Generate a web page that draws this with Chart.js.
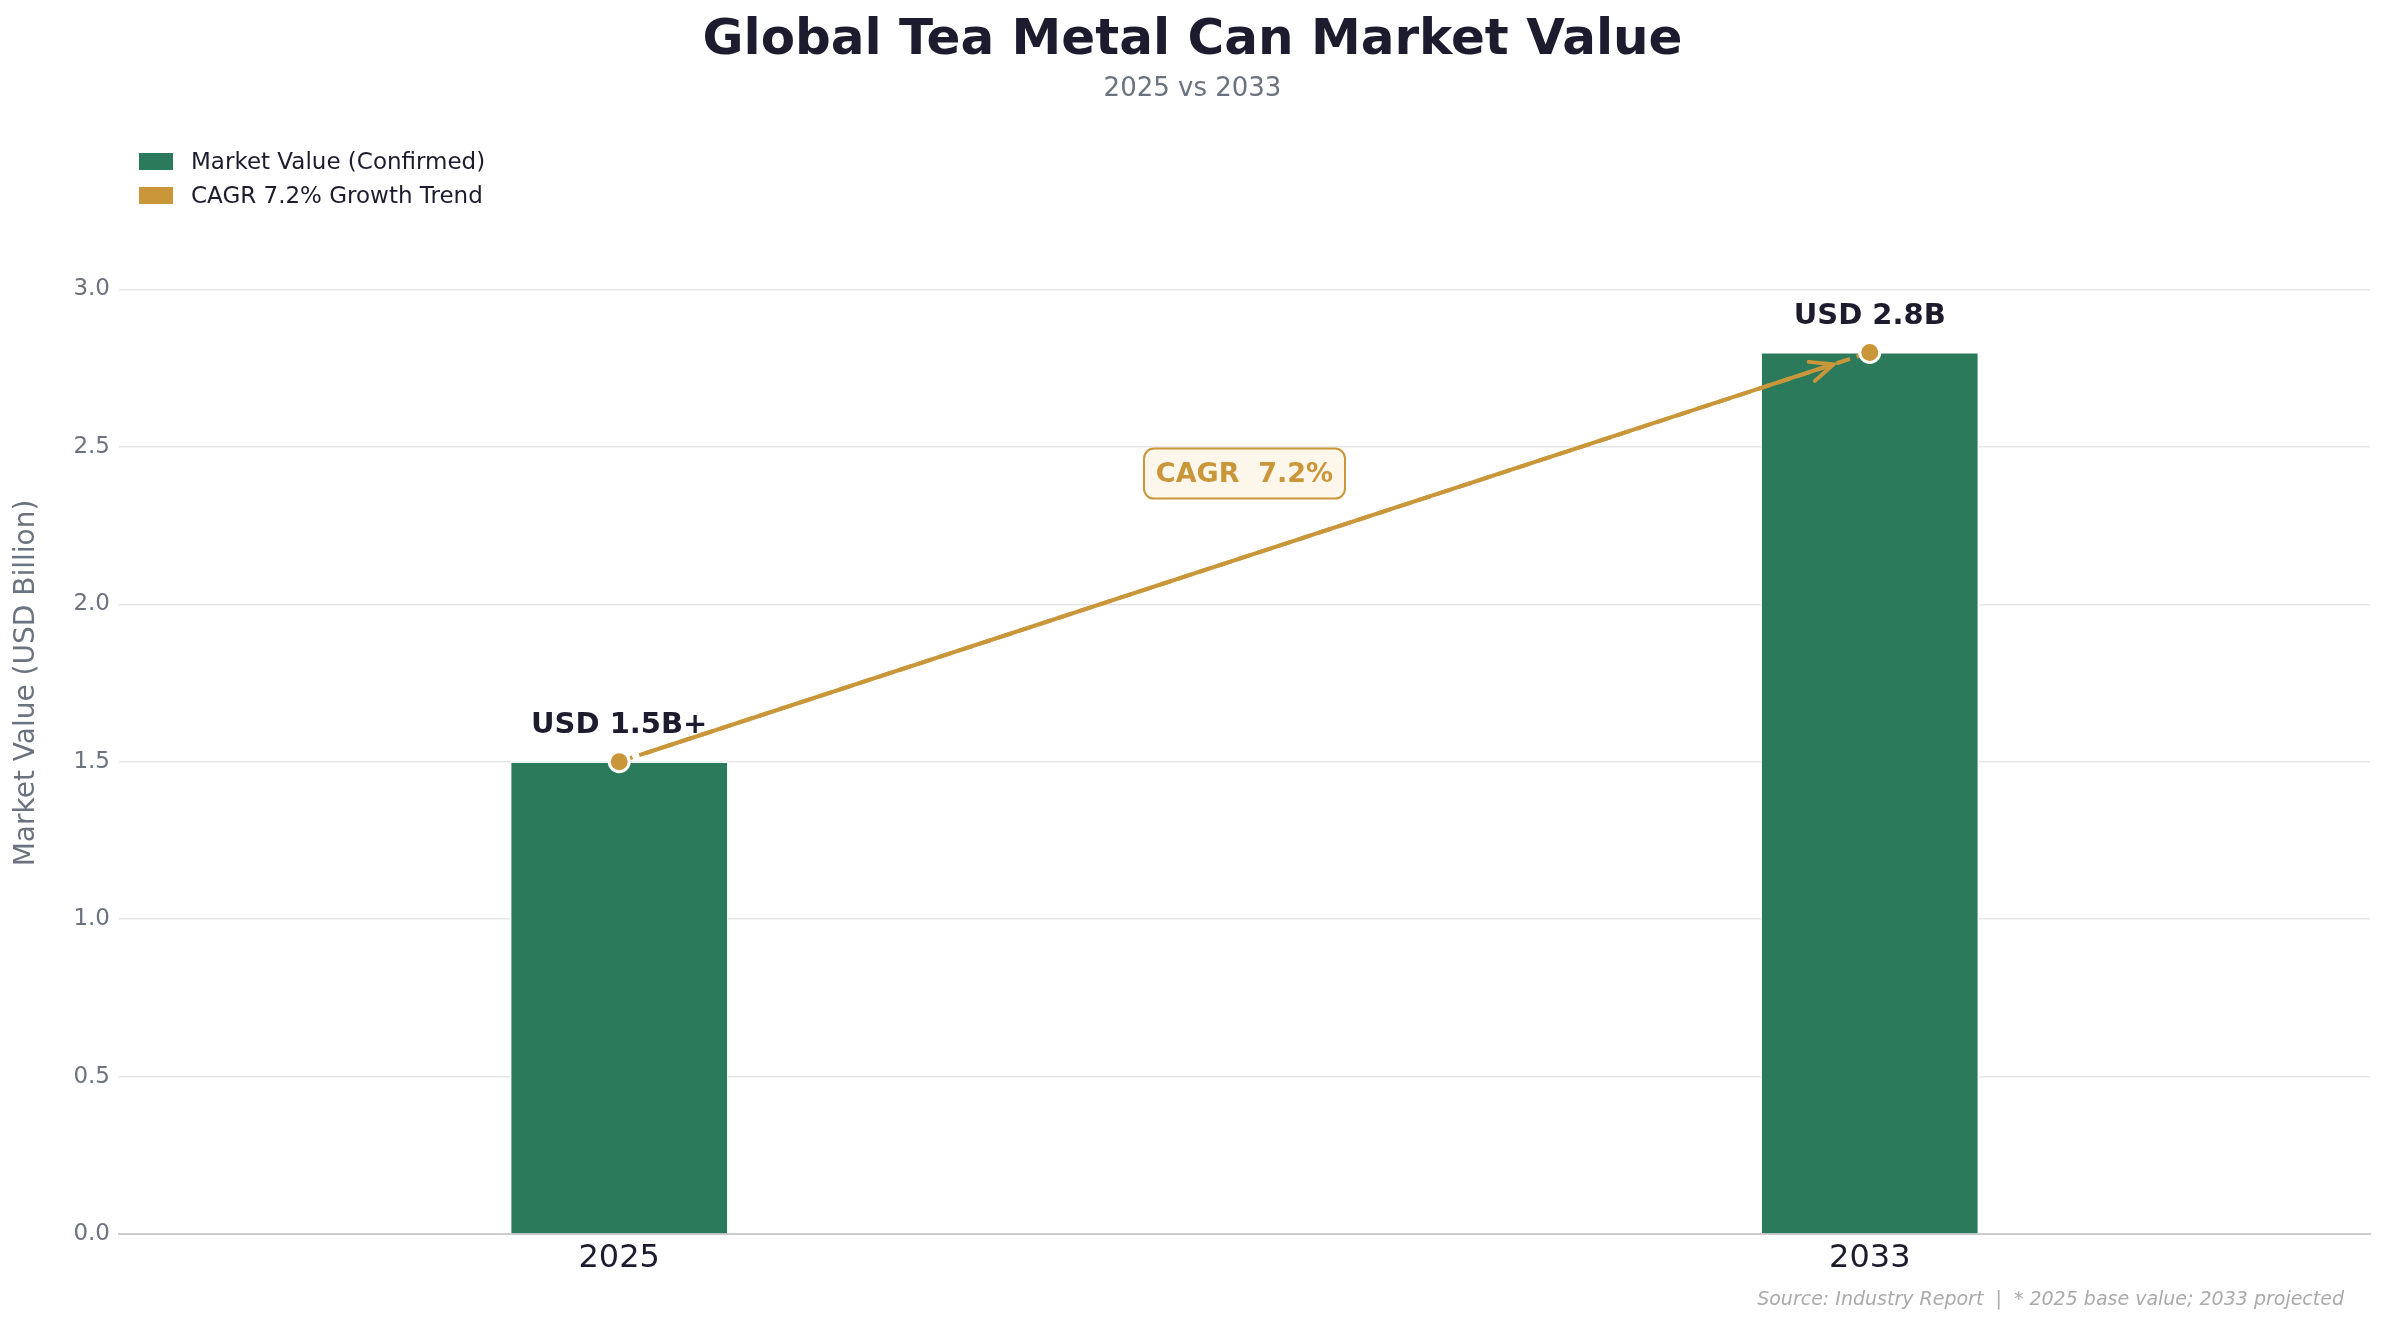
<!DOCTYPE html>
<html>
<head>
<meta charset="utf-8">
<script src="https://cdn.jsdelivr.net/npm/chart.js@4.4.1/dist/chart.umd.min.js"></script>
<style>
  html, body { margin: 0; padding: 0; background: #ffffff; }
  body { width: 2385px; height: 1326px; position: relative; overflow: hidden; font-family: "DejaVu Sans", sans-serif; }
  #chart { position: absolute; left: 0; top: 0; }
  .title { position: absolute; left: 0; width: 2385px; text-align: center; top: 7px; font-size: 50px; font-weight: bold; color: #1c1c2e; line-height: 60px; }
  .subtitle { position: absolute; left: 0; width: 2385px; text-align: center; top: 71px; font-size: 26px; color: #6b7280; line-height: 32px; }
  .legend { position: absolute; left: 139px; top: 144px; font-size: 23px; color: #1c1c2e; }
  .legend div { display: flex; align-items: center; height: 34px; }
  .legend span.box { display: inline-block; width: 34px; height: 17px; margin-right: 18px; }
  .footer { position: absolute; right: 41px; top: 1287px; font-size: 19px; font-style: italic; color: #aaaaaa; white-space: pre; }
</style>
</head>
<body>
<canvas id="chart" width="2385" height="1326"></canvas>
<div class="title">Global Tea Metal Can Market Value</div>
<div class="subtitle">2025 vs 2033</div>
<div class="legend" id="legend"></div>
<div class="footer">Source: Industry Report  |  * 2025 base value; 2033 projected</div>
<script>
const years = ["2025", "2033"];
const marketValues = [1.5, 2.8];
const valueLabels = ["USD 1.5B+", "USD 2.8B"];
const yTicks = [0, 0.5, 1.0, 1.5, 2.0, 2.5, 3.0];
const seriesNames = ["Market Value (Confirmed)", "CAGR 7.2% Growth Trend"];
const cagrText = "CAGR  7.2%";

const GREEN = "#2c7a5c";
const GOLD = "#c9973a";
const DARK = "#1c1c2e";
const GRAY = "#6b7280";

document.getElementById("legend").innerHTML = seriesNames
  .map((name, i) => `<div><span class="box" style="background:${i === 0 ? GREEN : GOLD}"></span>${name}</div>`)
  .join("");

const points = years.map((_, i) => ({ x: i, y: marketValues[i] }));

// arrow, value labels and the CAGR badge
const annotations = {
  id: "annotations",
  afterDatasetsDraw(chart) {
    const { ctx, scales: { x, y } } = chart;
    const x0 = x.getPixelForValue(0), y0 = y.getPixelForValue(marketValues[0]);
    const x1 = x.getPixelForValue(1), y1 = y.getPixelForValue(marketValues[1]);
    const len = Math.hypot(x1 - x0, y1 - y0);
    const ux = (x1 - x0) / len, uy = (y1 - y0) / len;
    const sx = x0 + ux * 28, sy = y0 + uy * 28;
    const ex = x1 - ux * 38, ey = y1 - uy * 38;

    ctx.save();
    ctx.strokeStyle = GOLD;
    ctx.lineWidth = 4;
    ctx.lineCap = "round";
    ctx.beginPath();
    ctx.moveTo(sx, sy);
    ctx.lineTo(ex, ey);
    const hl = 23, hw = 10;
    const bx = ex - ux * hl, by = ey - uy * hl;
    ctx.moveTo(bx - uy * hw, by + ux * hw);
    ctx.lineTo(ex, ey);
    ctx.lineTo(bx + uy * hw, by - ux * hw);
    ctx.stroke();

    // value labels
    ctx.fillStyle = DARK;
    ctx.font = "bold 29px 'DejaVu Sans'";
    ctx.textAlign = "center";
    ctx.textBaseline = "middle";
    years.forEach((_, i) => {
      ctx.fillText(valueLabels[i], x.getPixelForValue(i), y.getPixelForValue(marketValues[i]) - 36);
    });

    // CAGR badge
    const cx = x.getPixelForValue(0.5), cy = y.getPixelForValue(2.415);
    const w = 201, h = 50;
    ctx.beginPath();
    ctx.roundRect(cx - w / 2, cy - h / 2, w, h, 10);
    ctx.fillStyle = "#fdf6ea";
    ctx.fill();
    ctx.lineWidth = 2;
    ctx.strokeStyle = GOLD;
    ctx.stroke();
    ctx.fillStyle = GOLD;
    ctx.font = "bold 27px 'DejaVu Sans'";
    ctx.fillText(cagrText, cx, cy + 1);
    ctx.restore();
  }
};

new Chart(document.getElementById("chart"), {
  type: "bar",
  data: {
    datasets: [
      {
        type: "line",
        label: seriesNames[1],
        data: points,
        borderColor: GOLD,
        borderWidth: 4,
        borderDash: [14, 7],
        tension: 0,
        fill: false,
        pointRadius: 10,
        pointBackgroundColor: GOLD,
        pointBorderColor: "#ffffff",
        pointBorderWidth: 3,
        order: 1
      },
      {
        type: "bar",
        label: seriesNames[0],
        data: points,
        backgroundColor: GREEN,
        borderColor: "#ffffff",
        borderWidth: 1.5,
        barThickness: 218,
        order: 2
      }
    ]
  },
  options: {
    responsive: false,
    animation: false,
    layout: { padding: { top: 132, right: 15, left: 0, bottom: 0 } },
    plugins: {
      legend: { display: false },
      tooltip: { enabled: false }
    },
    scales: {
      x: {
        type: "linear",
        min: -0.4,
        max: 1.4,
        offset: false,
        afterFit: (s) => { s.height = 92; },
        afterBuildTicks: (s) => { s.ticks = years.map((_, i) => ({ value: i })); },
        grid: { display: false, drawTicks: false },
        border: { display: true, color: "#cccccc", width: 2 },
        ticks: {
          padding: 5,
          color: DARK,
          font: { family: "DejaVu Sans", size: 32 },
          callback: (v) => years[v] ?? ""
        }
      },
      y: {
        min: 0,
        max: 3.5,
        afterFit: (s) => { s.width = 119; },
        afterBuildTicks: (s) => { s.ticks = yTicks.map((v) => ({ value: v })); },
        grid: { color: "#e6e6e6", lineWidth: 1.5, drawTicks: false },
        border: { display: false },
        ticks: {
          padding: 9,
          color: GRAY,
          font: { family: "DejaVu Sans", size: 23 },
          callback: (v) => v.toFixed(1)
        },
        title: {
          display: true,
          text: "Market Value (USD Billion)",
          color: GRAY,
          font: { family: "DejaVu Sans", size: 28 },
          padding: { top: 10, bottom: 0 }
        }
      }
    }
  },
  plugins: [annotations]
});
</script>
</body>
</html>
